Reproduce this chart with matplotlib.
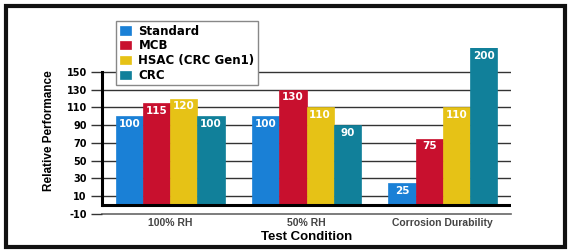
import numpy as np
import matplotlib.pyplot as plt
from matplotlib.patches import Rectangle

# 数据
conditions = ["100% RH", "50% RH", "Corrosion Durability"]
series_names = ["Standard", "MCB", "HSAC (CRC Gen1)", "CRC"]
standard = [100, 100, 25]
mcb = [115, 130, 75]
hsac = [120, 110, 110]
crc = [100, 90, 200]
colors = ["#1a80d6", "#c8102e", "#e6c216", "#11809a"]
yticks = [-10, 10, 30, 50, 70, 90, 110, 130, 150]

plt.rcParams['font.family'] = ['Liberation Sans', 'DejaVu Sans']

fig = plt.figure(figsize=(5.73, 2.52), dpi=100)
# 绘图区（像素换算）
ax = fig.add_axes([102/573, 1-214/252, (511-102)/573, (214-48)/252])
ax.set_xlim(-0.5, 2.5)
ax.set_ylim(-10, 177)

x = np.arange(len(conditions))
w = 0.2
for i, (name, vals) in enumerate(zip(series_names, [standard, mcb, hsac, crc])):
    pos = x + (i - 1.5) * w
    ax.bar(pos, vals, width=w, color=colors[i], edgecolor=colors[i],
           linewidth=0.5, label=name, zorder=3)
    for p, v in zip(pos, vals):
        ytop = min(v, 177)
        ax.annotate(str(v), (p, ytop), xytext=(0, -2), textcoords="offset points",
                    ha="center", va="top", color="white", fontsize=7.5,
                    fontweight="bold", family="DejaVu Sans", zorder=4)

# 网格线
for t in yticks[1:]:
    ax.axhline(t, color="#333333", lw=1.0, zorder=1)
ax.axhline(-10, color="#666666", lw=1.2, zorder=1, clip_on=False)
ax.axhline(0, color="black", lw=2.2, zorder=5)
ax.plot([-0.5, -0.5], [0, 150], color="black", lw=2.2, zorder=5, clip_on=False)

for s in ax.spines.values():
    s.set_visible(False)
ax.set_yticks(yticks)
ax.set_yticklabels([str(t) for t in yticks], fontsize=7, fontweight="bold",
                   family="DejaVu Sans")
ax.tick_params(axis="y", length=8, width=1.0, color="#333333", pad=3)
ax.set_xticks(x)
ax.set_xticklabels(conditions, fontsize=7.5, fontweight="bold", color="#444444")
ax.tick_params(axis="x", length=0, pad=3)
ax.set_xlabel("Test Condition", fontsize=9.5, fontweight="bold", labelpad=2)
ax.set_ylabel("Relative Performance", fontsize=8.5, fontweight="bold", labelpad=8)

leg = fig.legend(loc="upper left", bbox_to_anchor=(116/573, 1-21/252),
                 bbox_transform=fig.transFigure, borderaxespad=0,
                 prop={"weight": "bold", "size": 8.5, "family": "DejaVu Sans"},
                 handlelength=1.0, handleheight=0.7, handletextpad=0.6,
                 labelspacing=0.15, borderpad=0.3, fancybox=False,
                 framealpha=1, edgecolor="#888888")
leg.set_zorder(10)

# 外框
fig.patches.append(Rectangle((6/573, 5/252), (565-6)/573, (247-6)/252,
                             transform=fig.transFigure, fill=False,
                             edgecolor="#111111", lw=3))

fig.savefig("out.png", dpi=100)
